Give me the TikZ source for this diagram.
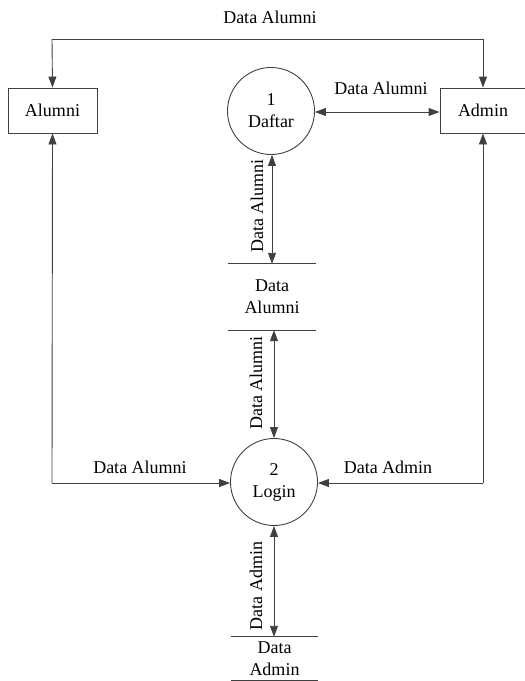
\documentclass[tikz,border=0pt]{standalone}
\usepackage{fontspec}
\setmainfont{Liberation Serif}
\usetikzlibrary{arrows.meta}
\begin{document}
\begin{tikzpicture}[x=1pt,y=-1pt,
  txt/.style={font=\fontsize{18}{22}\selectfont, text=black, inner sep=0pt},
  entity/.style={txt, draw=black!75, line width=0.9pt, rectangle, align=center},
  process/.style={txt, draw=black!75, line width=0.9pt, circle, minimum size=87pt, align=center},
  storetext/.style={txt, align=center},
  flow/.style={draw=black!75, line width=0.9pt},
  both/.style={flow, {Triangle[length=11pt,width=8pt]}-{Triangle[length=11pt,width=8pt]}},
  single/.style={flow, -{Triangle[length=11pt,width=8pt]}},
  lbl/.style={txt},
  vlbl/.style={txt, rotate=90}
]
\useasboundingbox (0,0) rectangle (525,681);

% external entities
\node[entity, minimum width=89pt, minimum height=45pt] (alumni) at (52.5,110.5) {Alumni};
\node[entity, minimum width=86pt, minimum height=45pt] (admin) at (483,110.5) {Admin};

% processes
\node[process] (daftar) at (271,111) {1\\Daftar};
\node[process] (login) at (274,482) {2\\Login};

% data stores
\node[storetext, minimum width=88pt, minimum height=66pt] (dsalumni) at (272,297) {Data\\Alumni};
\draw[flow] (dsalumni.north west) -- (dsalumni.north east);
\draw[flow] (dsalumni.south west) -- (dsalumni.south east);

\node[storetext, minimum width=87pt, minimum height=43pt] (dsadmin) at (274.5,658.5) {Data\\Admin};
\draw[flow] (dsadmin.north west) -- (dsadmin.north east);
\draw[flow] (dsadmin.south west) -- (dsadmin.south east);

% corner points of the routed flows
\coordinate (topL) at (52,39);
\coordinate (topR) at (483,39);
\coordinate (botL) at (52,483);
\coordinate (botR) at (483,483);

% top flow between the entities
\draw[single] (topL) -- (topR) -- (admin.north);
\draw[single] (topL) -- (alumni.north);
\node[lbl] (lbltop) at (270,17) {Data Alumni};

% daftar <-> admin
\draw[both] (daftar.east |- 0,112) -- (admin.west |- 0,112);
\node[lbl] (lbldaftaradmin) at (381,88) {Data Alumni};

% daftar <-> data alumni
\draw[both] (daftar.south -| 272,0) -- (dsalumni.north -| 272,0);
\node[vlbl] (lbldaftards) at (257,206) {Data Alumni};

% data alumni <-> login
\draw[both] (dsalumni.south -| 274,0) -- (login.north);
\node[vlbl] (lbldslogin) at (256,383) {Data Alumni};

% alumni <-> login
\draw[flow, {Triangle[length=11pt,width=8pt]}-] (alumni.south) -- (botL);
\draw[single] (botL) -- (login.west |- botL);
\node[lbl] (lblalumnilogin) at (140,467) {Data Alumni};

% admin <-> login
\draw[flow, {Triangle[length=11pt,width=8pt]}-] (admin.south) -- (botR);
\draw[single] (botR) -- (login.east |- botR);
\node[lbl] (lbladminlogin) at (388,467) {Data Admin};

% login <-> data admin
\draw[both] (login.south) -- (dsadmin.north -| login.south);
\node[vlbl] (lbllogindsadmin) at (256,586) {Data Admin};
\end{tikzpicture}
\end{document}
